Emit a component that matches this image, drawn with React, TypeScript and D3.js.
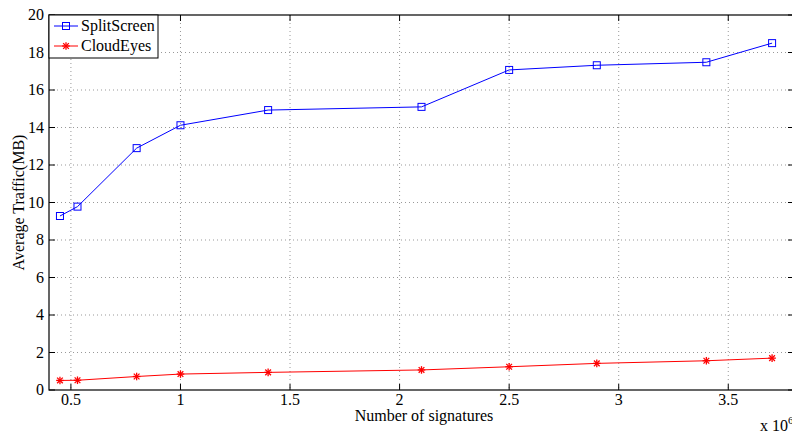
import React from "react";
import * as d3 from "d3";

const xSplit = [0.45, 0.53, 0.8, 1.0, 1.4, 2.1, 2.5, 2.9, 3.4, 3.7];
const ySplit = [9.28, 9.78, 12.9, 14.12, 14.93, 15.1, 17.07, 17.32, 17.48, 18.5];
const xCloud = [0.45, 0.53, 0.8, 1.0, 1.4, 2.1, 2.5, 2.9, 3.4, 3.7];
const yCloud = [0.51, 0.52, 0.72, 0.85, 0.94, 1.07, 1.24, 1.42, 1.56, 1.7];
const xTicks = [0.5, 1, 1.5, 2, 2.5, 3, 3.5];
const yTicks = [0, 2, 4, 6, 8, 10, 12, 14, 16, 18, 20];
const seriesNames = ["SplitScreen", "CloudEyes"];

const W = 792, H = 432;
const L = 49, R = 794, T = 15, B = 390;
const FONT = "Liberation Serif, Times New Roman, DejaVu Serif, serif";
const ts = { fontFamily: FONT, fontSize: "16px", fill: "#000" } as React.CSSProperties;

export default function App() {
  const x = d3.scaleLinear().domain([0.4, 3.8]).range([L, R]);
  const y = d3.scaleLinear().domain([0, 20]).range([B, T]);
  const line = d3.line<[number, number]>().x(d => x(d[0])).y(d => y(d[1]));
  const split: [number, number][] = xSplit.map((v, i) => [v, ySplit[i]]);
  const cloud: [number, number][] = xCloud.map((v, i) => [v, yCloud[i]]);

  const star = (cx: number, cy: number, key: any, s = 3.8) => (
    <g key={key} stroke="#ff0000" strokeWidth={1.3}>
      <line x1={cx - s} y1={cy} x2={cx + s} y2={cy} />
      <line x1={cx} y1={cy - s} x2={cx} y2={cy + s} />
      <line x1={cx - s * 0.75} y1={cy - s * 0.75} x2={cx + s * 0.75} y2={cy + s * 0.75} />
      <line x1={cx - s * 0.75} y1={cy + s * 0.75} x2={cx + s * 0.75} y2={cy - s * 0.75} />
    </g>
  );
  const square = (cx: number, cy: number, key: any) => (
    <rect key={key} x={cx - 3.5} y={cy - 3.5} width={7} height={7} fill="none" stroke="#0000ff" strokeWidth={1} />
  );

  return (
    <svg width={W} height={H} style={{ position: "absolute", left: 0, top: 0, background: "#fff" }}>
      <rect width={W} height={H} fill="#fff" />
      {xTicks.map(t => (
        <line key={"gx" + t} x1={x(t)} x2={x(t)} y1={T} y2={B} stroke="#999" strokeWidth={1} strokeDasharray="1,3" />
      ))}
      {yTicks.slice(1, -1).map(t => (
        <line key={"gy" + t} x1={L} x2={R} y1={y(t)} y2={y(t)} stroke="#999" strokeWidth={1} strokeDasharray="1,3" />
      ))}
      {xTicks.map(t => (
        <g key={"tx" + t} stroke="#000">
          <line x1={x(t)} x2={x(t)} y1={B} y2={B - 6} />
          <line x1={x(t)} x2={x(t)} y1={T} y2={T + 6} />
        </g>
      ))}
      {yTicks.map(t => (
        <g key={"ty" + t} stroke="#000">
          <line x1={L} x2={L + 6} y1={y(t)} y2={y(t)} />
          <line x1={R} x2={R - 6} y1={y(t)} y2={y(t)} />
        </g>
      ))}
      <rect x={L} y={T} width={R - L} height={B - T} fill="none" stroke="#000" strokeWidth={1.2} />
      {xTicks.map(t => (
        <text key={"lx" + t} x={x(t)} y={B + 15} textAnchor="middle" style={ts}>{t}</text>
      ))}
      {yTicks.map(t => (
        <text key={"ly" + t} x={L - 5} y={y(t) + 5} textAnchor="end" style={ts}>{t}</text>
      ))}
      <text x={424} y={421} textAnchor="middle" style={ts}>Number of signatures</text>
      <text transform={`translate(24,${(T + B) / 2}) rotate(-90)`} textAnchor="middle" style={ts}>Average Traffic(MB)</text>
      <text x={760} y={431} style={ts}>x 10<tspan dy={-7} style={{ fontSize: "11px" }}>6</tspan></text>
      <path d={line(split) || ""} fill="none" stroke="#0000ff" strokeWidth={1} />
      {split.map((d, i) => square(x(d[0]), y(d[1]), "s" + i))}
      <path d={line(cloud) || ""} fill="none" stroke="#ff0000" strokeWidth={1} />
      {cloud.map((d, i) => star(x(d[0]), y(d[1]), "c" + i))}
      <rect x={L} y={T} width={109} height={43} fill="#fff" stroke="#000" strokeWidth={1} />
      <line x1={54} x2={78} y1={26} y2={26} stroke="#0000ff" />
      {square(66, 26, "ls")}
      <text x={81} y={31} style={ts}>{seriesNames[0]}</text>
      <line x1={54} x2={78} y1={46} y2={46} stroke="#ff0000" />
      {star(66, 46, "lc")}
      <text x={81} y={51} style={ts}>{seriesNames[1]}</text>
    </svg>
  );
}
